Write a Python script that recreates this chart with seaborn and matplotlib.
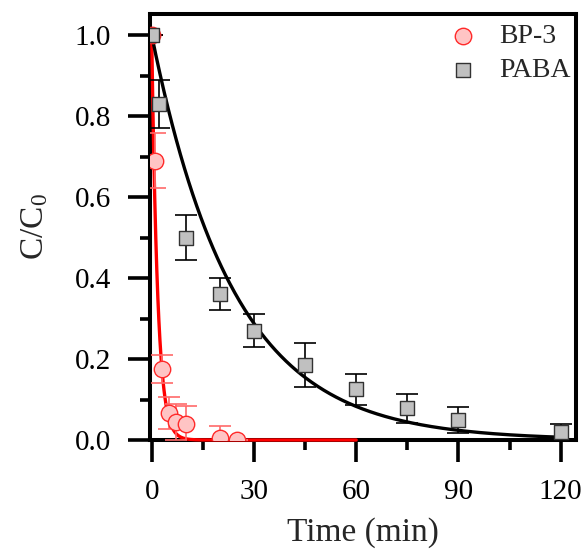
import numpy as np
import pandas as pd
import matplotlib
matplotlib.use("Agg")
import matplotlib.pyplot as plt
import seaborn as sns

# dati
t_bp3 = [0, 1, 3, 5, 7, 10, 20, 25]
c_bp3 = [1.0, 0.69, 0.175, 0.066, 0.045, 0.04, 0.005, 0.0]
err_bp3 = [0.0, 0.068, 0.035, 0.04, 0.045, 0.045, 0.03, 0.0]

t_paba = [0, 2, 10, 20, 30, 45, 60, 75, 90, 120]
c_paba = [1.0, 0.83, 0.50, 0.36, 0.27, 0.185, 0.125, 0.078, 0.05, 0.02]
err_paba = [0.0, 0.06, 0.055, 0.04, 0.04, 0.055, 0.038, 0.036, 0.032, 0.02]

# costanti cinetiche (pseudo primo ordine)
k_bp3 = 0.58
k_paba = 0.0415
t_fit_bp3 = np.linspace(0, 60, 400)
t_fit_paba = np.linspace(0, 120, 400)

df_fit = pd.DataFrame({
    "t": np.concatenate([t_fit_bp3, t_fit_paba]),
    "c": np.concatenate([np.exp(-k_bp3 * t_fit_bp3), np.exp(-k_paba * t_fit_paba)]),
    "serie": ["BP-3"] * len(t_fit_bp3) + ["PABA"] * len(t_fit_paba),
})

sns.set_style("ticks")
plt.rcParams["font.family"] = ["Liberation Serif", "DejaVu Serif"]
plt.rcParams["mathtext.fontset"] = "custom"
plt.rcParams["mathtext.rm"] = "Liberation Serif"
plt.rcParams["mathtext.it"] = "Liberation Serif:italic"

fig = plt.figure(figsize=(5.84, 5.54), dpi=100)
ax = fig.add_axes([150 / 584, 1 - 440 / 554, 426 / 584, 426 / 554])

# curve di fit
sns.lineplot(data=df_fit, x="t", y="c", hue="serie", palette={"BP-3": "red", "PABA": "black"},
             linewidth=2.4, legend=False, ax=ax, zorder=3, clip_on=False)

# barre di errore
ax.errorbar(t_bp3, c_bp3, yerr=err_bp3, fmt="none", ecolor="#ff6a6a", elinewidth=1.2,
            capsize=8, capthick=1.2, zorder=4)
ax.errorbar(t_paba, c_paba, yerr=err_paba, fmt="none", ecolor="black", elinewidth=1.2,
            capsize=8, capthick=1.2, zorder=4)

# punti
sns.scatterplot(x=t_bp3, y=c_bp3, marker="o", s=140, color="#ffc4c4", edgecolor="#ff2a2a",
                linewidth=1.0, ax=ax, zorder=5, label="BP-3")
sns.scatterplot(x=t_paba, y=c_paba, marker="s", s=100, color="#c0c0c0", edgecolor="#333333",
                linewidth=1.0, ax=ax, zorder=5, label="PABA")

ax.set_xlim(-0.5, 124.5)
ax.set_ylim(0, 1.052)
ax.set_xticks([0, 30, 60, 90, 120])
ax.set_xticks([15, 45, 75, 105], minor=True)
ax.set_yticks([0.0, 0.2, 0.4, 0.6, 0.8, 1.0])
ax.set_yticks([0.1, 0.3, 0.5, 0.7, 0.9], minor=True)
ax.set_yticklabels(["0.0", "0.2", "0.4", "0.6", "0.8", "1.0"])

for s in ax.spines.values():
    s.set_linewidth(2.9)
    s.set_color("black")
    s.set_zorder(2.5)
ax.tick_params(which="major", direction="out", length=16, width=2.6, labelsize=21,
               colors="black")
ax.tick_params(which="minor", direction="out", length=7.5, width=2.6, colors="black")
ax.tick_params(axis="x", which="major", pad=12)
ax.tick_params(axis="y", which="major", pad=12)

ax.set_xlabel("Time (min)", fontsize=24, labelpad=9)
ax.set_ylabel(r"C/C$_\mathregular{0}$", fontsize=24, labelpad=18)

leg = ax.legend(loc="upper right", bbox_to_anchor=(1.0, 0.99), frameon=False, fontsize=20,
                handlelength=1.0, handletextpad=0.8, borderaxespad=0.0, borderpad=0.2,
                labelspacing=0.3)

fig.savefig("out.png", dpi=100)
